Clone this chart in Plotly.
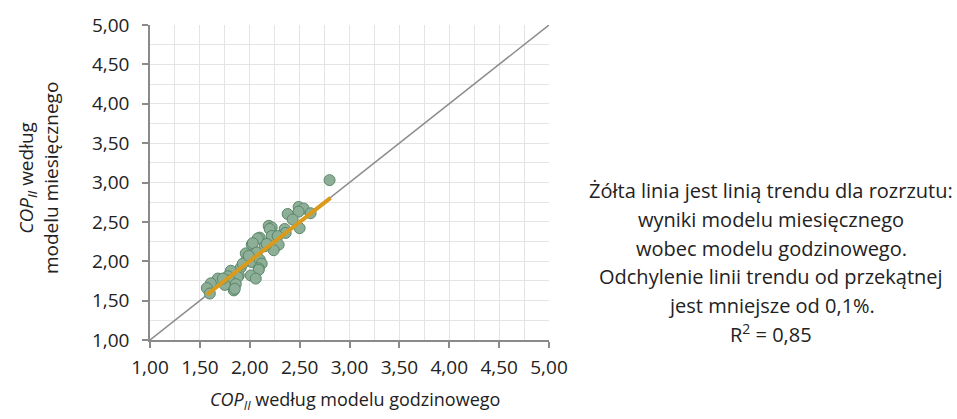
import plotly.graph_objects as go

# Scatter data: COP according to hourly model (x) vs monthly model (y)
cop_hourly = [2.80, 2.49, 2.54, 2.49, 2.61, 2.38, 2.43, 2.50, 2.35, 2.36,
              2.19, 2.22, 2.20, 2.22, 2.28, 2.29, 2.24, 2.15, 2.10, 2.08,
              2.02, 2.03, 1.96, 2.07, 1.97, 2.02, 2.10, 2.12, 2.09, 2.09,
              2.01, 2.06, 1.91, 1.81, 1.89, 1.88, 1.78, 1.80, 1.75, 1.86,
              1.84, 1.85, 1.68, 1.73, 1.61, 1.57, 1.60, 2.17, 1.93, 1.99]
cop_monthly = [3.03, 2.69, 2.67, 2.63, 2.61, 2.60, 2.53, 2.42, 2.41, 2.36,
               2.45, 2.43, 2.41, 2.32, 2.32, 2.21, 2.14, 2.19, 2.30, 2.29,
               2.21, 2.23, 2.10, 2.11, 2.01, 1.99, 2.02, 1.97, 1.91, 1.89,
               1.82, 1.78, 1.92, 1.88, 1.82, 1.80, 1.81, 1.76, 1.70, 1.71,
               1.63, 1.65, 1.78, 1.78, 1.72, 1.66, 1.59, 2.22, 1.97, 2.07]

# Trend line endpoints and diagonal
trend_x = [1.57, 2.81]
trend_y = [1.575, 2.805]
diag = [1.0, 5.0]

tick_vals = [1.0, 1.5, 2.0, 2.5, 3.0, 3.5, 4.0, 4.5, 5.0]

x_title = "<i>COP<sub>II</sub></i> według modelu godzinowego"
y_title = "<i>COP<sub>II</sub></i> według<br>modelu miesięcznego"
note_lines = [
    "Żółta linia jest linią trendu dla rozrzutu:",
    "wyniki modelu miesięcznego",
    "wobec modelu godzinowego.",
    "Odchylenie linii trendu od przekątnej",
    "jest mniejsze od 0,1%.",
    "R<sup>2</sup> = 0,85",
]

FONT = "Open Sans, Noto Sans, sans-serif"
GRID = "#E4E4E4"
AXIS = "#8A8A8A"
TXT = "#222222"

# plot area in pixels
L, R, T, B = 150, 549, 23, 340
W, H = 957, 419


def px_x(px):
    return (px - L) / (R - L)


def px_y(py):
    return (B - py) / (B - T)


fig = go.Figure()
fig.add_trace(go.Scatter(x=diag, y=diag, mode="lines",
                         line=dict(color="#8C8C8C", width=1.5),
                         hoverinfo="skip", showlegend=False))
fig.add_trace(go.Scatter(x=cop_hourly, y=cop_monthly, mode="markers",
                         marker=dict(size=11, color="#8DAE97",
                                     line=dict(color="#5B876A", width=1)),
                         showlegend=False))
fig.add_trace(go.Scatter(x=trend_x, y=trend_y, mode="lines",
                         line=dict(color="#DA9A1C", width=4),
                         showlegend=False))

axis_common = dict(
    range=[1.0, 5.0], tickvals=tick_vals, tickformat=".2f",
    showgrid=True, gridcolor=GRID, gridwidth=1,
    minor=dict(dtick=0.25, tick0=1.0, showgrid=True, gridcolor=GRID, gridwidth=1),
    showline=True, linecolor=AXIS, linewidth=1.5,
    ticks="outside", ticklen=6, tickcolor=AXIS, tickwidth=1.5,
    zeroline=False, tickfont=dict(family=FONT, size=19, color=TXT),
)

fig.update_layout(
    width=W, height=H,
    margin=dict(l=L, r=W - R, t=T, b=H - B),
    plot_bgcolor="white", paper_bgcolor="white",
    separators=", ",
    xaxis=dict(**axis_common, ticklabelstandoff=3),
    yaxis=dict(**axis_common, ticklabelstandoff=9),
    font=dict(family=FONT, size=19, color=TXT),
)

annotations = [
    dict(text=x_title, xref="paper", yref="paper", x=px_x(355), y=px_y(401),
         xanchor="center", yanchor="middle",
         showarrow=False, font=dict(family=FONT, size=18, color=TXT)),
    dict(text=y_title, xref="paper", yref="paper", x=px_x(38), y=px_y(177),
         textangle=-90, xanchor="center", yanchor="middle",
         showarrow=False, font=dict(family=FONT, size=19, color=TXT)),
]
note_y = [190, 219, 248, 276, 305, 333]
for line, yy in zip(note_lines, note_y):
    annotations.append(dict(text=line, xref="paper", yref="paper",
                            x=px_x(771), y=px_y(yy), xanchor="center",
                            yanchor="middle", showarrow=False,
                            font=dict(family=FONT, size=20, color=TXT)))
fig.update_layout(annotations=annotations)

fig.write_html("out.html")
